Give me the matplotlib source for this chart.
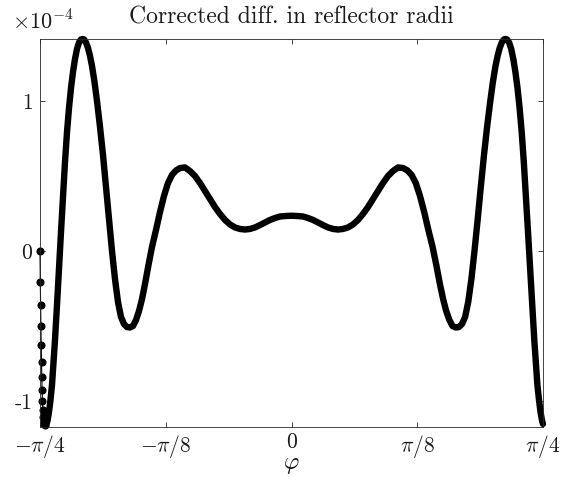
import numpy as np
import matplotlib
matplotlib.use("Agg")
import matplotlib.pyplot as plt

plt.rcParams['font.family'] = 'serif'
plt.rcParams['font.serif'] = ['cmr10']
plt.rcParams['mathtext.fontset'] = 'cm'
plt.rcParams['axes.formatter.use_mathtext'] = True

# angle in units of pi/4, value in units of 1e-4
# steep drop right at the left boundary (separate dots)
edge_phi = [-1.0, -0.9988, -0.9976, -0.9964, -0.9952, -0.994, -0.9928,
            -0.9917, -0.9905, -0.9889, -0.9873, -0.9853, -0.983, -0.980]
edge_val = [0.0, -0.207, -0.36, -0.50, -0.627, -0.74, -0.84,
            -0.927, -1.0, -1.06, -1.107, -1.133, -1.153, -1.16]

main_phi = [
    -0.9761, -0.9702, -0.9642, -0.9583, -0.9523, -0.9463, -0.9404, -0.9324,
    -0.9245, -0.9165, -0.9085, -0.9006, -0.8926, -0.8847, -0.8767, -0.8688,
    -0.8608, -0.8529, -0.8449, -0.8370, -0.8310, -0.8250, -0.8171, -0.8091,
    -0.8012, -0.7932, -0.7833, -0.7734, -0.7614, -0.7495, -0.7376, -0.7256,
    -0.7137, -0.7018, -0.6899, -0.6779, -0.666, -0.654, -0.6421, -0.6302,
    -0.6183, -0.6064, -0.5944, -0.5825, -0.5686, -0.5547, -0.5388, -0.5229,
    -0.507, -0.4911, -0.4751, -0.4592, -0.4433, -0.4235, -0.4036, -0.3837,
    -0.3638, -0.3439, -0.3241, -0.3042, -0.2843, -0.2644, -0.2445, -0.2247,
    -0.2048, -0.1849, -0.165, -0.1451, -0.1252, -0.1054, -0.0855, -0.0656,
    -0.0457, -0.0258, 0.0,
    0.0258, 0.0457, 0.0656, 0.0855, 0.1054, 0.1252, 0.1451, 0.165,
    0.1849, 0.2048, 0.2247, 0.2445, 0.2644, 0.2843, 0.3042, 0.3241,
    0.3439, 0.3638, 0.3837, 0.4036, 0.4235, 0.4441, 0.4608, 0.4775,
    0.4942, 0.5109, 0.5276, 0.5443, 0.561, 0.5757, 0.5901, 0.6028,
    0.6151, 0.6278, 0.6402, 0.6529, 0.6652, 0.6779, 0.6903, 0.7026,
    0.7153, 0.7276, 0.7404, 0.7527, 0.7654, 0.7777, 0.7905, 0.8008,
    0.8111, 0.8195, 0.8278, 0.8362, 0.8445, 0.8509, 0.8569, 0.8652,
    0.8736, 0.8819, 0.8903, 0.8986, 0.9070, 0.9153, 0.9237, 0.9320,
    0.9404, 0.9487, 0.9571, 0.9654, 0.9714, 0.9777, 0.9841, 0.9901,
    0.9964, 1.0]
main_val = [
    -1.163, -1.133, -1.073, -0.993, -0.893, -0.74, -0.593, -0.36,
    -0.113, 0.127, 0.367, 0.593, 0.793, 0.953, 1.087, 1.193,
    1.28, 1.347, 1.39, 1.41, 1.413, 1.41, 1.39, 1.353,
    1.30, 1.233, 1.127, 1.0, 0.827, 0.64, 0.427, 0.213,
    0.0, -0.187, -0.34, -0.44, -0.487, -0.507, -0.51, -0.5,
    -0.46, -0.4, -0.32, -0.22, -0.093, 0.027, 0.14, 0.26,
    0.367, 0.453, 0.507, 0.537, 0.553, 0.557, 0.533, 0.5,
    0.453, 0.4, 0.347, 0.293, 0.247, 0.207, 0.177, 0.157,
    0.147, 0.143, 0.147, 0.157, 0.173, 0.19, 0.207, 0.22,
    0.23, 0.233, 0.235,
    0.233, 0.23, 0.22, 0.207, 0.19, 0.173, 0.157, 0.147,
    0.143, 0.147, 0.157, 0.177, 0.207, 0.247, 0.293, 0.347,
    0.4, 0.453, 0.5, 0.533, 0.557, 0.553, 0.537, 0.507,
    0.453, 0.367, 0.26, 0.14, 0.027, -0.093, -0.22, -0.32,
    -0.4, -0.46, -0.5, -0.51, -0.507, -0.487, -0.44, -0.34,
    -0.187, 0.0, 0.213, 0.427, 0.64, 0.827, 1.0, 1.127,
    1.233, 1.3, 1.353, 1.39, 1.41, 1.413, 1.41, 1.39,
    1.347, 1.28, 1.193, 1.087, 0.953, 0.793, 0.593, 0.367,
    0.127, -0.113, -0.36, -0.593, -0.74, -0.893, -0.993, -1.073,
    -1.133, -1.153]

xticks = [-1, -0.5, 0, 0.5, 1]
xlabels = [r'$-\pi/4$', r'$-\pi/8$', r'$0$', r'$\pi/8$', r'$\pi/4$']
yticks = [-1, 0, 1]
ylabels = ['-1', '0', '1']

q = np.pi / 4
scale = 1e-4

fig = plt.figure(figsize=(5.68, 4.9), dpi=100)
ax = fig.add_axes([40/568, 1-427/490, 503/568, 388/490])

ax.plot(np.array(edge_phi)*q, np.array(edge_val)*scale, '-', color='k',
        lw=0.8, marker='o', ms=4.8, mec='k', mfc='k', clip_on=False)
ax.plot(np.array(main_phi)*q, np.array(main_val)*scale, '-', color='k',
        lw=4.6, solid_capstyle='round', solid_joinstyle='round',
        clip_on=False)

ax.set_xlim(-q, q)
ax.set_ylim(-1.173*scale, 1.413*scale)
ax.set_xticks(np.array(xticks)*q)
ax.set_xticklabels(xlabels)
ax.set_yticks(np.array(yticks)*scale)
ax.set_yticklabels(ylabels)

ax.tick_params(direction='in', length=3.6, width=0.6, color='0.15',
               top=True, right=True, labelsize=15.5, labelcolor='0.1')
ax.tick_params(axis='y', pad=5.5)
ax.tick_params(axis='x', pad=4)
for s in ax.spines.values():
    s.set_color('0.15')
    s.set_linewidth(0.6)

ax.text(-0.056, 1.0232, r'$\times 10^{-4}$', transform=ax.transAxes,
        ha='left', va='baseline', fontsize=16, color='0.1')
ax.text(0.5, 1 + 16/388, 'Corrected diff. in reflector radii',
        transform=ax.transAxes, ha='center', va='baseline', fontsize=17,
        color='0.1')
ax.text(0.5, -(465-427)/388, r'$\varphi$', transform=ax.transAxes,
        ha='center', va='center', fontsize=17, color='0.1')

fig.savefig('out.png', dpi=100)
